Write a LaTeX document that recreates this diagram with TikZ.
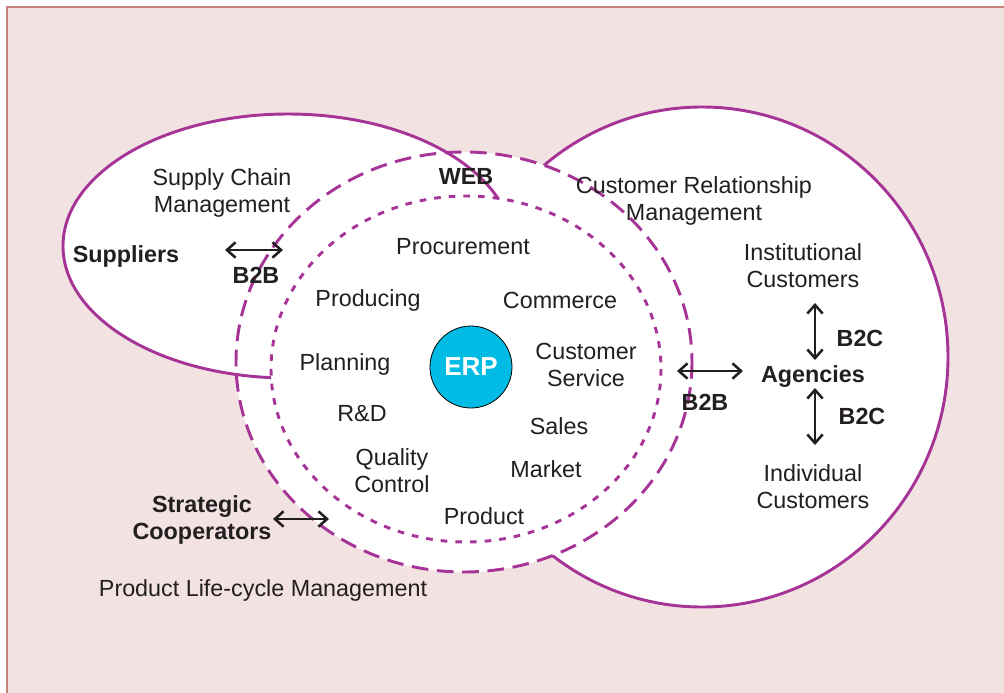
\documentclass[tikz,border=0pt]{standalone}
\usepackage{fontspec}
\setmainfont{Liberation Sans}
\usetikzlibrary{arrows.meta}
\definecolor{bgpink}{RGB}{242,226,226}
\definecolor{bgedge}{RGB}{200,130,125}
\definecolor{ringpurple}{RGB}{166,52,151}
\definecolor{erpcyan}{RGB}{0,188,228}
\definecolor{txtgray}{RGB}{35,31,32}
\tikzset{
  lbl/.style={text=txtgray, align=center, inner sep=0.75pt, font=\fontsize{17.5}{20.3}\selectfont},
  blbl/.style={lbl, font=\fontsize{17.5}{20.3}\selectfont\bfseries},
  ring/.style={draw=ringpurple, line width=2.2pt},
  biarrow/.style={{Straight Barb[length=6.5pt,width=11.5pt]}-{Straight Barb[length=6.5pt,width=11.5pt]}, line width=1.9pt, draw=txtgray},
  erp/.style={circle, draw=black, line width=0.6pt, fill=erpcyan, text=white, inner sep=0pt, minimum size=61.5pt, font=\fontsize{19.5}{22}\selectfont\bfseries},
}

\begin{document}
\begin{tikzpicture}[x=0.75pt,y=0.75pt,yscale=-1,xscale=1]
\useasboundingbox (0,0) rectangle (1004,693);

%Background
\fill[bgpink] (7,7) rectangle (1004,693);
\draw[bgedge, line width=0.8pt] (7,693) -- (7,7) -- (1004,7);

%White areas
\fill[white] (288,246) ellipse [x radius=225, y radius=132];
\fill[white] (702,357) ellipse [x radius=246, y radius=250];
\fill[white] (464,362) ellipse [x radius=228, y radius=210];
%CRM circle
\draw[ring] (702,357) ellipse [x radius=246, y radius=250];
\fill[white] (464,362) ellipse [x radius=228, y radius=210];
%SCM ellipse
\draw[ring] (288,246) ellipse [x radius=225, y radius=132];
\fill[white] (466,369) ellipse [x radius=195, y radius=173];
%WEB ring
\draw[ring, dash pattern=on 12.5pt off 6.5pt] (464,362) ellipse [x radius=228, y radius=210];
%Inner ring
\draw[ring, dash pattern=on 5pt off 6pt] (466,369) ellipse [x radius=195, y radius=173];

% ERP
\node[erp] (erp) at (471,367) {ERP};

% Text Node
\node[lbl] (scm) at (222,193) {Supply Chain\\Management};
\node[blbl] (sup) at (126,256) {Suppliers};
\node[blbl] (b2bsup) at (256,275) {B2B};
\node[blbl] (web) at (466,176) {WEB};
\node[lbl] (crm) at (694,201) {Customer Relationship\\Management};
\node[lbl] (proc) at (463,247) {Procurement};
\node[lbl] (prod) at (368,300) {Producing};
\node[lbl] (comm) at (560,300) {Commerce};
\node[lbl] (plan) at (345,364) {Planning};
\node[lbl] (cs) at (586,365) {Customer\\Service};
\node[lbl] (rd) at (362,414) {R\&D};
\node[lbl] (sales) at (559,426) {Sales};
\node[lbl] (qc) at (392,471) {Quality\\Control};
\node[lbl] (mkt) at (546,469) {Market};
\node[lbl] (product) at (484,516) {Product};
\node[blbl] (strat) at (202,520) {Strategic\\Cooperators};
\node[lbl] (plm) at (263,590) {Product Life-cycle Management};
\node[lbl] (inst) at (803,266) {Institutional\\Customers};
\node[blbl] (b2cup) at (860,338) {B2C};
\node[blbl] (agen) at (813,377) {Agencies};
\node[blbl] (b2bagen) at (705,402) {B2B};
\node[blbl] (b2clow) at (862,416) {B2C};
\node[lbl] (indiv) at (813,487) {Individual\\Customers};

%Arrows
\coordinate (supA) at (225,250);
\coordinate (supB) at (283,250);
\coordinate (stratA) at (273,519);
\coordinate (stratB) at (329,519);
\coordinate (agenA) at (677,371);
\coordinate (agenB) at (743,371);
\coordinate (instA) at (815,303);
\coordinate (instB) at (815,360);
\coordinate (indivA) at (815,388);
\coordinate (indivB) at (815,445);
\draw[biarrow] (supA) -- (supB);
\draw[biarrow] (stratA) -- (stratB);
\draw[biarrow] (agenA) -- (agenB);
\draw[biarrow] (instA) -- (instB);
\draw[biarrow] (indivA) -- (indivB);

\end{tikzpicture}
\end{document}
